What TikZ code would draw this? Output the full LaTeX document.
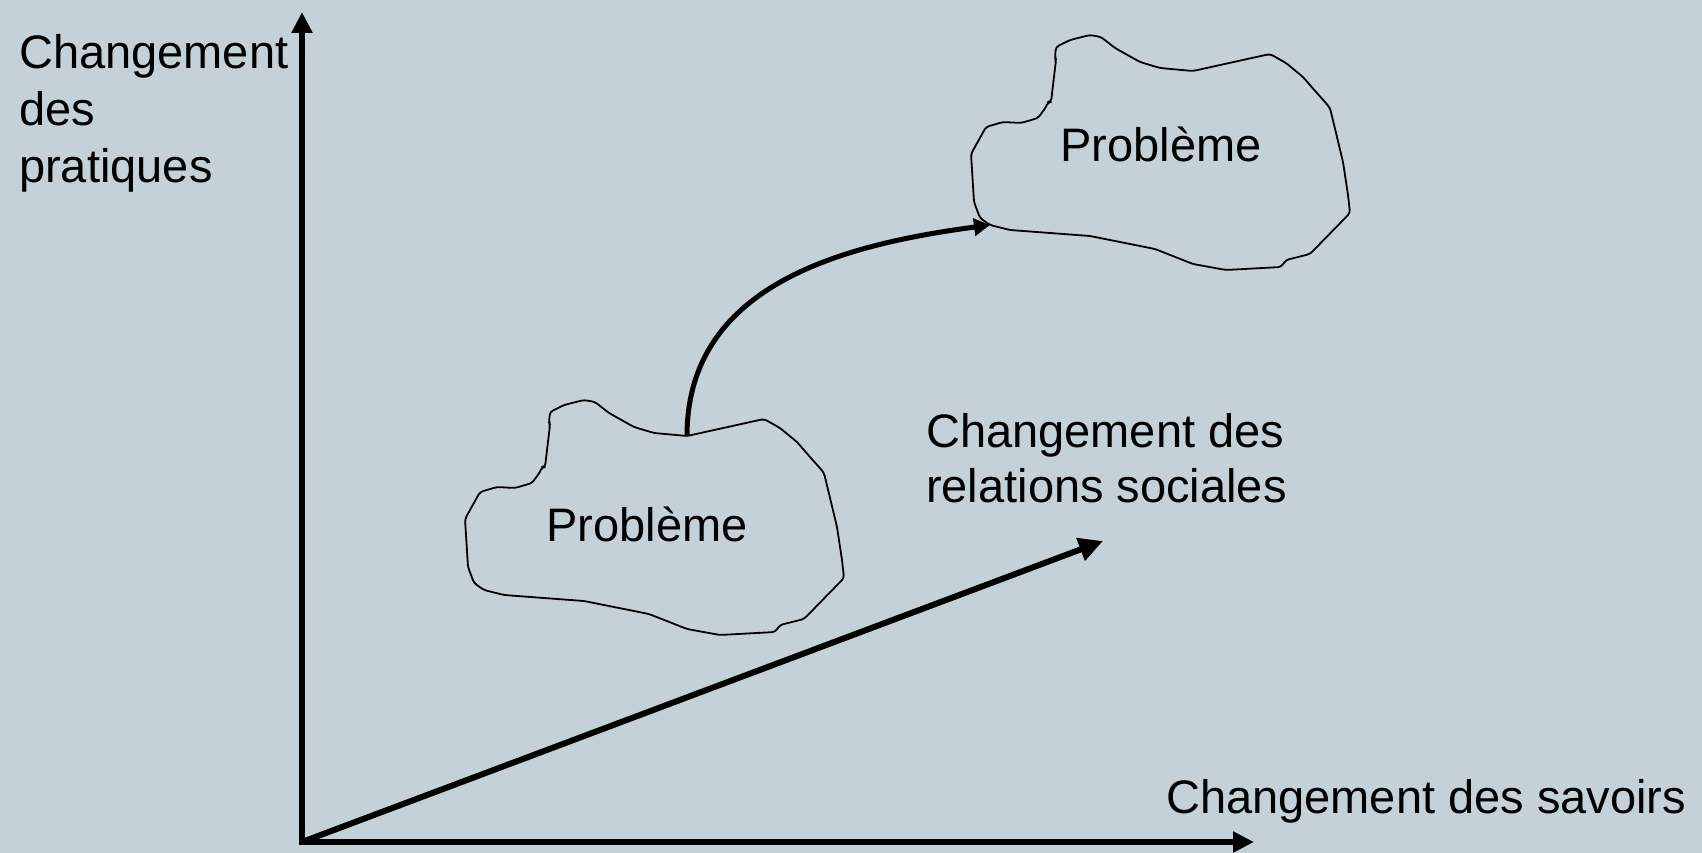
\documentclass[tikz,border=0pt]{standalone}
\usepackage{fontspec}
\setmainfont{Liberation Sans}
\usetikzlibrary{arrows.meta}
\definecolor{slideBg}{RGB}{197,209,216}

% cloud outline, #1 = name, #2 = shift
\newcommand{\Cloud}[2]{%
	\begin{scope}[shift={#2}]
		\coordinate (#1-top) at (0,0);
		\coordinate (#1-in) at (-203,154);
		\draw[cloudStyle] (0,0) -- (77,-17) -- (93,-8) -- (110,6) -- (123,21) -- (132,31) -- (137,37)
			-- (150,91) -- (155,124) -- (157,142) -- (117,183) -- (93,189) -- (88,196) -- (33,199)
			-- (0,193) -- (-38,178) -- (-103,165) -- (-183,159) -- (-203,154) -- (-213,147)
			-- (-219,131) -- (-222,83) -- (-207,56) -- (-190,51) -- (-172,52) -- (-155,47)
			-- (-147,36) -- (-145,31) -- (-142,31) -- (-137,-11) -- (-138,-14) -- (-137,-24)
			-- (-123,-31) -- (-103,-36) -- (-92,-34) -- (-78,-23) -- (-53,-9) -- (-33,-3) -- cycle;
	\end{scope}}

\begin{document}
\begin{tikzpicture}[x=1pt, y=-1pt, font=\fontsize{47}{54.5}\selectfont]
	\tikzstyle{axisStyle}=[line width=6pt, line join=miter, {Triangle[length=21pt, width=20pt]}-{Triangle[length=21pt, width=20pt]}]
	\tikzstyle{diagStyle}=[line width=6pt, -{Triangle[length=24pt, width=23pt]}]
	\tikzstyle{linkStyle}=[line width=5pt, -{Triangle[length=16pt, width=17pt]}]
	\tikzstyle{cloudStyle}=[line width=1.8pt, line join=round, rounded corners=3pt]
	\tikzstyle{labelStyle}=[inner sep=0pt, anchor=base west, align=left]
	\fill[slideBg] (0,0) rectangle (1702,853);
	\useasboundingbox (0,0) rectangle (1702,853);
	% axes
	\coordinate (origin) at (302,842);
	\coordinate (yTip) at (302,12);
	\coordinate (xTip) at (1254,842);
	\coordinate (zTip) at (1103,541);
	\draw[axisStyle] (yTip) -- (origin) -- (xTip);
	\draw[diagStyle] (origin) -- (zTip);
	% axis labels (base = last line)
	\node[labelStyle, font=\fontsize{47}{57.5}\selectfont] (pratiques) at (19,183) {Changement\\des\\pratiques};
	\node[labelStyle] (relations) at (926,502) {Changement des\\relations sociales};
	\node[labelStyle] (savoirs) at (1166,813) {Changement des savoirs};
	% problems
	\Cloud{lo}{(687,436)}
	\Cloud{hi}{(1193,71)}
	\node[inner sep=0pt, anchor=base] (probLo) at (647,541) {Problème};
	\node[inner sep=0pt, anchor=base] (probHi) at (1161,162) {Problème};
	\draw[linkStyle] (lo-top) .. controls +(0,-150) and +(-150,20) .. (hi-in);
\end{tikzpicture}
\end{document}
